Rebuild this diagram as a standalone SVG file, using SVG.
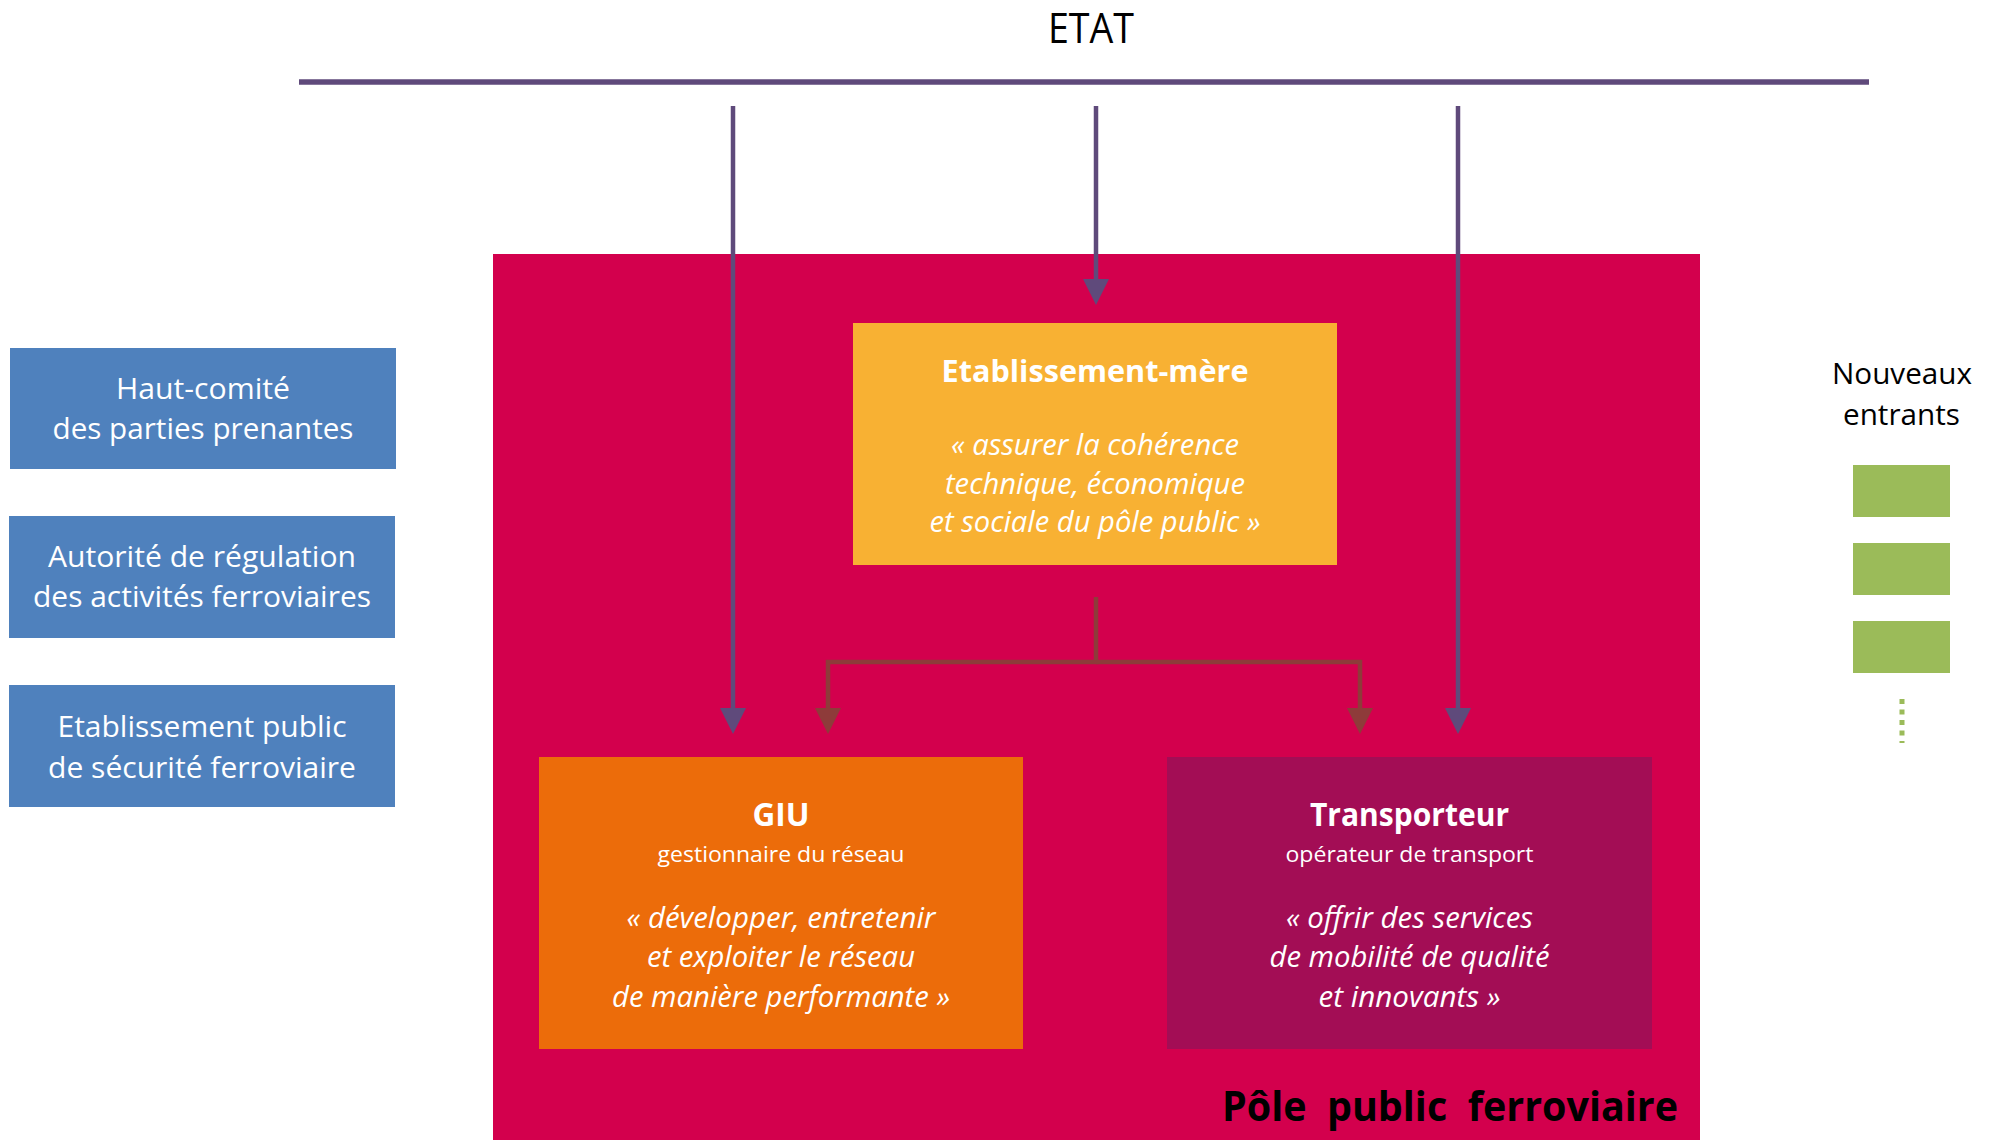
<svg xmlns="http://www.w3.org/2000/svg" width="1991" height="1140" viewBox="0 0 1991 1140">
<style>
text{font-family:"Open Sans","Noto Sans","DejaVu Sans",sans-serif;text-anchor:middle;}
.w{fill:#FFFFFF;}
.k{fill:#000000;}
.b{font-weight:bold;}
.i{font-style:italic;}
.side{fill:#4F81BD;}
.green{fill:#9BBB59;}
.etat{stroke:#5F4A7B;stroke-width:4.5;fill:none;}
.brown{stroke:#8E3B3A;stroke-width:4.5;fill:none;}
</style>
<defs>
<marker id="ahP" viewBox="0 0 26 26" markerWidth="26" markerHeight="26" markerUnits="userSpaceOnUse" refX="0" refY="13" orient="auto">
<path d="M0,0 L26,13 L0,26 z" fill="#5F4A7B"/>
</marker>
<marker id="ahB" viewBox="0 0 26 26" markerWidth="26" markerHeight="26" markerUnits="userSpaceOnUse" refX="0" refY="13" orient="auto">
<path d="M0,0 L26,13 L0,26 z" fill="#8E3B3A"/>
</marker>
</defs>
<rect width="1991" height="1140" fill="#FFFFFF"/>

<g id="etat">
<text class="k" x="1091" y="43" font-size="42" textLength="86" lengthAdjust="spacingAndGlyphs">ETAT</text>
</g>

<g id="pole-public">
<rect x="493" y="254" width="1207" height="886" fill="#D3004D"/>
<text class="k b" x="1678" y="1121" font-size="41" style="text-anchor:end" xml:space="preserve" textLength="456" lengthAdjust="spacingAndGlyphs">Pôle  public  ferroviaire</text>
</g>

<g id="etablissement-mere">
<rect x="853" y="323" width="484" height="242" fill="#F8B133"/>
<text class="w b" x="1095" y="382" font-size="31" textLength="307" lengthAdjust="spacingAndGlyphs">Etablissement-mère</text>
<text class="w i" x="1095" y="455" font-size="29" textLength="288" lengthAdjust="spacingAndGlyphs">« assurer la cohérence</text>
<text class="w i" x="1095" y="494" font-size="29" textLength="300" lengthAdjust="spacingAndGlyphs">technique, économique</text>
<text class="w i" x="1095" y="532" font-size="29" textLength="331" lengthAdjust="spacingAndGlyphs">et sociale du pôle public »</text>
</g>

<g id="giu">
<rect x="539" y="757" width="484" height="292" fill="#EC6C0A"/>
<text class="w b" x="781" y="826" font-size="32" textLength="57" lengthAdjust="spacingAndGlyphs">GIU</text>
<text class="w" x="781" y="862" font-size="22" textLength="247" lengthAdjust="spacingAndGlyphs">gestionnaire du réseau</text>
<text class="w i" x="781" y="928" font-size="29" textLength="309" lengthAdjust="spacingAndGlyphs">« développer, entretenir</text>
<text class="w i" x="781" y="967" font-size="29" textLength="268" lengthAdjust="spacingAndGlyphs">et exploiter le réseau</text>
<text class="w i" x="781" y="1007" font-size="29" textLength="338" lengthAdjust="spacingAndGlyphs">de manière performante »</text>
</g>

<g id="transporteur">
<rect x="1167" y="757" width="485" height="292" fill="#A30D55"/>
<text class="w b" x="1409.5" y="826" font-size="32" textLength="199" lengthAdjust="spacingAndGlyphs">Transporteur</text>
<text class="w" x="1409.5" y="862" font-size="22" textLength="248" lengthAdjust="spacingAndGlyphs">opérateur de transport</text>
<text class="w i" x="1409.5" y="928" font-size="29" textLength="247" lengthAdjust="spacingAndGlyphs">« offrir des services</text>
<text class="w i" x="1409.5" y="967" font-size="29" textLength="280" lengthAdjust="spacingAndGlyphs">de mobilité de qualité</text>
<text class="w i" x="1409.5" y="1007" font-size="29" textLength="182" lengthAdjust="spacingAndGlyphs">et innovants »</text>
</g>

<g id="haut-comite">
<rect class="side" x="10" y="348" width="386" height="121"/>
<text class="w" x="203" y="399" font-size="29" textLength="174" lengthAdjust="spacingAndGlyphs">Haut-comité</text>
<text class="w" x="203" y="439" font-size="29" textLength="301" lengthAdjust="spacingAndGlyphs">des parties prenantes</text>
</g>

<g id="autorite-regulation">
<rect class="side" x="9" y="516" width="386" height="122"/>
<text class="w" x="202" y="567" font-size="29" textLength="308" lengthAdjust="spacingAndGlyphs">Autorité de régulation</text>
<text class="w" x="202" y="607" font-size="29" textLength="338" lengthAdjust="spacingAndGlyphs">des activités ferroviaires</text>
</g>

<g id="securite-ferroviaire">
<rect class="side" x="9" y="685" width="386" height="122"/>
<text class="w" x="202" y="737" font-size="29" textLength="289" lengthAdjust="spacingAndGlyphs">Etablissement public</text>
<text class="w" x="202" y="778" font-size="29" textLength="308" lengthAdjust="spacingAndGlyphs">de sécurité ferroviaire</text>
</g>

<g id="nouveaux-entrants">
<text class="k" x="1902" y="384" font-size="29" textLength="140" lengthAdjust="spacingAndGlyphs">Nouveaux</text>
<text class="k" x="1901.5" y="425" font-size="29" textLength="117" lengthAdjust="spacingAndGlyphs">entrants</text>
<rect class="green" x="1853" y="465" width="97" height="52"/>
<rect class="green" x="1853" y="543" width="97" height="52"/>
<rect class="green" x="1853" y="621" width="97" height="52"/>
<line x1="1902" y1="699" x2="1902" y2="743" stroke="#9BBB59" stroke-width="5" stroke-dasharray="5 5.5"/>
</g>

<g id="connectors">
<line class="etat" x1="299" y1="82" x2="1869" y2="82" style="stroke-width:5.5"/>
<line class="etat" x1="733" y1="106" x2="733" y2="708" marker-end="url(#ahP)"/>
<line class="etat" x1="1096" y1="106" x2="1096" y2="279" marker-end="url(#ahP)"/>
<line class="etat" x1="1458" y1="106" x2="1458" y2="708" marker-end="url(#ahP)"/>
<path class="brown" d="M1096,597 V662 H828 V708" marker-end="url(#ahB)"/>
<path class="brown" d="M1096,662 H1360 V708" marker-end="url(#ahB)"/>
</g>
</svg>
